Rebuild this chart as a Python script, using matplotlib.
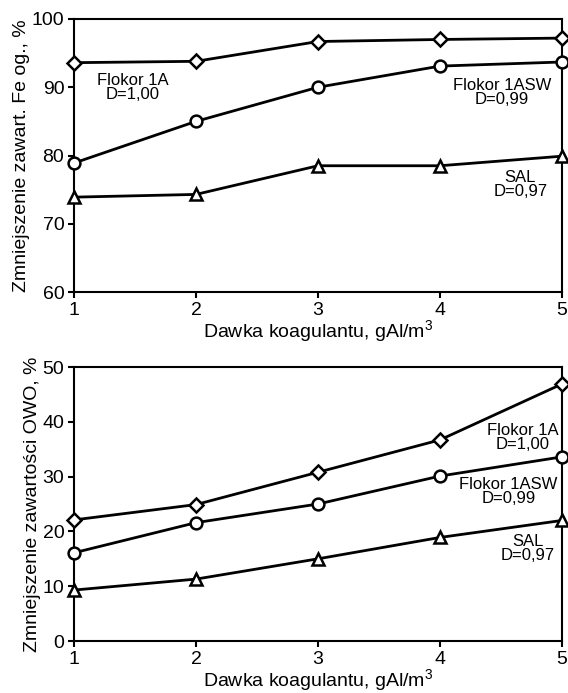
import matplotlib
matplotlib.use('Agg')
import matplotlib.pyplot as plt

plt.rcParams['font.family'] = ['Liberation Sans', 'DejaVu Sans']
plt.rcParams['mathtext.fontset'] = 'custom'
plt.rcParams['mathtext.rm'] = 'Liberation Sans'

doses = [1, 2, 3, 4, 5]

# Zmniejszenie zawart. Fe og., %
fe_flokor1a = [93.6, 93.8, 96.7, 97.0, 97.2]
fe_flokor1asw = [78.9, 85.0, 90.0, 93.1, 93.7]
fe_sal = [73.9, 74.3, 78.5, 78.5, 79.9]

# Zmniejszenie zawartosci OWO, %
owo_flokor1a = [22.1, 24.9, 30.8, 36.7, 46.9]
owo_flokor1asw = [16.1, 21.6, 25.0, 30.1, 33.6]
owo_sal = [9.3, 11.3, 15.0, 18.9, 22.0]

labels = ['Flokor 1A\nD=1,00', 'Flokor 1ASW\nD=0,99', 'SAL\nD=0,97']
markers = ['D', 'o', '^']
msizes = [7, 8.5, 9]


def draw(ax, series, ylim, yticks, ylabel, label_pos):
    for vals, m, ms in zip(series, markers, msizes):
        ax.plot(doses, vals, color='black', lw=2, marker=m, ms=ms,
                mfc='white', mec='black', mew=1.8, clip_on=False, zorder=3)
    for lab, (x, y) in zip(labels, label_pos):
        ax.text(x, y, lab, ha='center', va='center', fontsize=12, linespacing=0.92)
    ax.set_xlim(1, 5)
    ax.set_ylim(*ylim)
    ax.set_xticks(doses)
    ax.set_yticks(yticks)
    ax.tick_params(direction='out', length=4, width=1.5, labelsize=14, pad=3)
    for s in ax.spines.values():
        s.set_linewidth(1.5)
    ax.set_xlabel('Dawka koagulantu, gAl/m$^{3}$', fontsize=14, labelpad=0)
    ax.set_ylabel(ylabel, fontsize=14, labelpad=1)


fig = plt.figure(figsize=(5.68, 6.93), dpi=100)
ax1 = fig.add_axes([0.1303, 0.5786, 0.859, 0.394])
ax2 = fig.add_axes([0.1303, 0.075, 0.859, 0.3954])

draw(ax1, [fe_flokor1a, fe_flokor1asw, fe_sal], (60, 100), [60, 70, 80, 90, 100],
     'Zmniejszenie zawart. Fe og., %',
     [(1.48, 90.0), (4.51, 89.3), (4.66, 75.8)])
draw(ax2, [owo_flokor1a, owo_flokor1asw, owo_sal], (0, 50), [0, 10, 20, 30, 40, 50],
     'Zmniejszenie zawartości OWO, %',
     [(4.68, 37.1), (4.56, 27.2), (4.72, 16.9)])

fig.savefig('out.png', dpi=100)
